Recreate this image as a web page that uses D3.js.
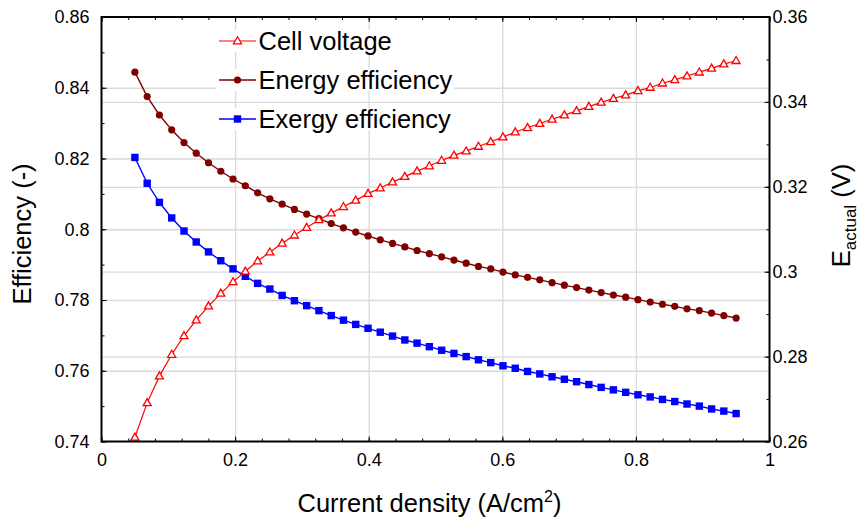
<!DOCTYPE html>
<html>
<head>
<meta charset="utf-8">
<script src="https://cdn.jsdelivr.net/npm/d3@7"></script>
<style>
  body { margin: 0; background: #fff; }
  svg { display: block; }
  text { font-family: "Liberation Sans", Arial, sans-serif; fill: #000; }
</style>
</head>
<body>
<svg id="chart" width="858" height="520"></svg>
<script>
// Current density (A/cm2) at which each operating point was evaluated
const currentDensity = [
  0.0500, 0.0684, 0.0867, 0.1051, 0.1235, 0.1418, 0.1602, 0.1786, 0.1969, 0.2153,
  0.2337, 0.2520, 0.2704, 0.2888, 0.3071, 0.3255, 0.3439, 0.3622, 0.3806, 0.3990,
  0.4173, 0.4357, 0.4541, 0.4724, 0.4908, 0.5092, 0.5276, 0.5459, 0.5643, 0.5827,
  0.6010, 0.6194, 0.6378, 0.6561, 0.6745, 0.6929, 0.7112, 0.7296, 0.7480, 0.7663,
  0.7847, 0.8031, 0.8214, 0.8398, 0.8582, 0.8765, 0.8949, 0.9133, 0.9316, 0.9500
];

// Actual cell voltage E_actual (V), right axis
const cellVoltage = [
  0.2610, 0.2691, 0.2754, 0.2805, 0.2849, 0.2886, 0.2919, 0.2949, 0.2976, 0.3001,
  0.3025, 0.3046, 0.3067, 0.3086, 0.3104, 0.3122, 0.3138, 0.3153, 0.3168, 0.3184,
  0.3197, 0.3211, 0.3224, 0.3237, 0.3249, 0.3262, 0.3274, 0.3284, 0.3295, 0.3306,
  0.3317, 0.3329, 0.3339, 0.3349, 0.3359, 0.3369, 0.3379, 0.3389, 0.3399, 0.3408,
  0.3416, 0.3426, 0.3434, 0.3444, 0.3452, 0.3461, 0.3470, 0.3479, 0.3489, 0.3497
];

// Energy efficiency (-), left axis
const energyEfficiency = [
  0.8444, 0.8375, 0.8323, 0.8281, 0.8245, 0.8215, 0.8188, 0.8164, 0.8142, 0.8123,
  0.8103, 0.8086, 0.8071, 0.8056, 0.8043, 0.8030, 0.8016, 0.8004, 0.7992, 0.7981,
  0.7970, 0.7960, 0.7950, 0.7940, 0.7931, 0.7922, 0.7913, 0.7904, 0.7895, 0.7888,
  0.7879, 0.7871, 0.7864, 0.7857, 0.7849, 0.7842, 0.7835, 0.7828, 0.7821, 0.7814,
  0.7808, 0.7801, 0.7794, 0.7788, 0.7782, 0.7775, 0.7770, 0.7763, 0.7756, 0.7749
];

// Exergy efficiency (-), left axis
const exergyEfficiency = [
  0.8203, 0.8130, 0.8076, 0.8032, 0.7995, 0.7964, 0.7936, 0.7911, 0.7888, 0.7867,
  0.7847, 0.7831, 0.7813, 0.7798, 0.7784, 0.7770, 0.7756, 0.7743, 0.7731, 0.7720,
  0.7709, 0.7698, 0.7687, 0.7678, 0.7668, 0.7658, 0.7649, 0.7640, 0.7631, 0.7623,
  0.7614, 0.7607, 0.7598, 0.7591, 0.7583, 0.7576, 0.7569, 0.7561, 0.7553, 0.7546,
  0.7539, 0.7532, 0.7526, 0.7519, 0.7513, 0.7506, 0.7500, 0.7492, 0.7486, 0.7479
];

const xTicks = [0, 0.2, 0.4, 0.6, 0.8, 1];
const leftTicks = [0.74, 0.76, 0.78, 0.8, 0.82, 0.84, 0.86];
const rightTicks = [0.26, 0.28, 0.3, 0.32, 0.34, 0.36];
const seriesNames = ["Cell voltage", "Energy efficiency", "Exergy efficiency"];

const svg = d3.select("#chart");
const plot = { left: 101.5, right: 769.5, top: 17, bottom: 441.5 };

const x = d3.scaleLinear().domain([0, 1]).range([plot.left, plot.right]);
const yL = d3.scaleLinear().domain([0.74, 0.86]).range([plot.bottom, plot.top]);
const yR = d3.scaleLinear().domain([0.26, 0.36]).range([plot.bottom, plot.top]);

const fmt = d => String(+d.toFixed(2));
const gridColor = "#dadada";
const noDomain = g => g.select(".domain").remove();

// ---- grid ----
const grid = svg.append("g").attr("class", "grid");
grid.append("g")
  .attr("transform", `translate(0,${plot.bottom})`)
  .call(d3.axisBottom(x).tickValues(xTicks.slice(1, -1)).tickSize(-(plot.bottom - plot.top)).tickFormat(""))
  .call(noDomain);
grid.append("g")
  .attr("transform", `translate(${plot.left},0)`)
  .call(d3.axisLeft(yL).tickValues(leftTicks.slice(1, -1)).tickSize(-(plot.right - plot.left)).tickFormat(""))
  .call(noDomain);
grid.append("g")
  .attr("transform", `translate(${plot.left},0)`)
  .call(d3.axisLeft(yR).tickValues(rightTicks.slice(1, -1)).tickSize(-(plot.right - plot.left)).tickFormat(""))
  .call(noDomain);
grid.selectAll("line").attr("stroke", gridColor).attr("stroke-width", 1.3);

// ---- series ----
const pts = vals => currentDensity.map((c, i) => [c, vals[i]]);

const series = [
  { name: seriesNames[2], data: pts(exergyEfficiency), y: yL, color: "#0000ff", marker: "square" },
  { name: seriesNames[1], data: pts(energyEfficiency), y: yL, color: "#800000", marker: "circle" },
  { name: seriesNames[0], data: pts(cellVoltage), y: yR, color: "#ff0000", marker: "triangle" }
];

const trianglePath = "M0,-4.2L4,2.8L-4,2.8Z";

function drawMarker(sel, s) {
  if (s.marker === "circle") {
    sel.append("circle").attr("r", 3.6).attr("fill", s.color);
  } else if (s.marker === "square") {
    sel.append("rect").attr("x", -3.7).attr("y", -3.7).attr("width", 7.4).attr("height", 7.4).attr("fill", s.color);
  } else {
    sel.append("path").attr("d", trianglePath).attr("fill", "#fff")
      .attr("stroke", s.color).attr("stroke-width", 1.3);
  }
}

series.forEach(s => {
  const g = svg.append("g");
  const line = d3.line().x(d => x(d[0])).y(d => s.y(d[1]));
  g.append("path").datum(s.data)
    .attr("d", line).attr("fill", "none")
    .attr("stroke", s.color).attr("stroke-width", s.marker === "triangle" ? 1.2 : 1.4);
  g.selectAll("g.m").data(s.data).join("g")
    .attr("class", "m")
    .attr("transform", d => `translate(${x(d[0])},${s.y(d[1])})`)
    .each(function () { drawMarker(d3.select(this), s); });
});

// ---- axes ----
const axes = svg.append("g");
const tickFont = 18;

// bottom
axes.append("g").attr("transform", `translate(0,${plot.bottom})`)
  .call(d3.axisBottom(x).tickValues(xTicks).tickSize(-5).tickPadding(12).tickFormat(fmt))
  .call(noDomain);
axes.append("g").attr("transform", `translate(0,${plot.bottom})`)
  .call(d3.axisBottom(x).tickValues(d3.range(0, 1.0001, 0.04)).tickSize(-3).tickFormat(""))
  .call(noDomain);
// top
axes.append("g").attr("transform", `translate(0,${plot.top})`)
  .call(d3.axisTop(x).tickValues(xTicks).tickSize(-5).tickFormat(""))
  .call(noDomain);
axes.append("g").attr("transform", `translate(0,${plot.top})`)
  .call(d3.axisTop(x).tickValues(d3.range(0, 1.0001, 0.04)).tickSize(-3).tickFormat(""))
  .call(noDomain);
// left
axes.append("g").attr("transform", `translate(${plot.left},0)`)
  .call(d3.axisLeft(yL).tickValues(leftTicks).tickSize(-5).tickPadding(12).tickFormat(fmt))
  .call(noDomain);
axes.append("g").attr("transform", `translate(${plot.left},0)`)
  .call(d3.axisLeft(yL).tickValues(yL.ticks(12)).tickSize(-3).tickFormat(""))
  .call(noDomain);
// right
axes.append("g").attr("transform", `translate(${plot.right},0)`)
  .call(d3.axisRight(yR).tickValues(rightTicks).tickSize(-5).tickPadding(3).tickFormat(fmt))
  .call(noDomain);
axes.append("g").attr("transform", `translate(${plot.right},0)`)
  .call(d3.axisRight(yR).tickValues(yR.ticks(10)).tickSize(-3).tickFormat(""))
  .call(noDomain);

axes.selectAll("line").attr("stroke", "#000").attr("stroke-width", 1);
axes.selectAll("text")
  .attr("font-family", '"Liberation Sans", Arial, sans-serif')
  .attr("font-size", tickFont).attr("fill", "#000");

// frame
svg.append("rect")
  .attr("x", plot.left).attr("y", plot.top)
  .attr("width", plot.right - plot.left).attr("height", plot.bottom - plot.top)
  .attr("fill", "none").attr("stroke", "#000").attr("stroke-width", 2);

// ---- axis titles ----
const titleFont = 25.5;
const xt = svg.append("text")
  .attr("x", 429.5).attr("y", 512)
  .attr("text-anchor", "middle").attr("font-size", titleFont);
xt.append("tspan").text("Current density (A/cm");
xt.append("tspan").attr("font-size", 16).attr("dy", -10).text("2");
xt.append("tspan").attr("dy", 10).text(")");

svg.append("text")
  .attr("transform", "translate(31,234) rotate(-90)")
  .attr("text-anchor", "middle").attr("font-size", titleFont)
  .text("Efficiency (-)");

const yt = svg.append("text")
  .attr("transform", "translate(849.5,215.5) rotate(-90)")
  .attr("text-anchor", "middle").attr("font-size", titleFont);
yt.append("tspan").text("E");
yt.append("tspan").attr("font-size", 17).attr("dy", 6).text("actual");
yt.append("tspan").attr("dy", -6).text(" (V)");

// ---- legend ----
const legendOrder = [series[2], series[1], series[0]];
const legend = svg.append("g");
legendOrder.forEach((s, i) => {
  const cy = 41 + i * 39;
  const g = legend.append("g").attr("transform", `translate(0,${cy})`);
  const bg = g.append("rect").attr("fill", "#fff");
  g.append("line").attr("x1", 219).attr("x2", 256).attr("y1", 0).attr("y2", 0)
    .attr("stroke", s.color).attr("stroke-width", s.marker === "triangle" ? 1.2 : 1.4);
  const m = g.append("g").attr("transform", "translate(237.5,0)");
  drawMarker(m, s);
  const t = g.append("text").attr("x", 258.5).attr("y", 9).attr("font-size", 25.5).text(s.name);
  const w = t.node().getComputedTextLength();
  bg.attr("x", 216).attr("y", -11).attr("width", 258.5 + w + 2 - 216).attr("height", 22);
});
</script>
</body>
</html>
